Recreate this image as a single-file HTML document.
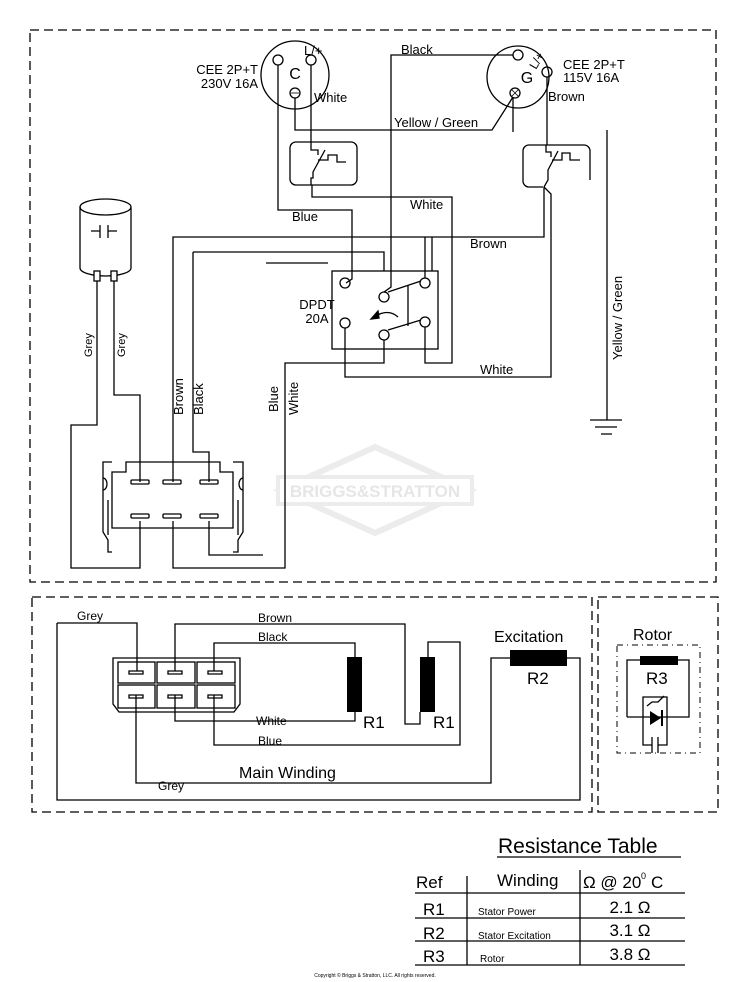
<!DOCTYPE html>
<html><head><meta charset="utf-8"><style>
html,body{margin:0;padding:0;background:#fff;}
svg{display:block;}
text{font-family:"Liberation Sans",sans-serif;fill:#000;}
</style></head><body>
<svg width="750" height="982" viewBox="0 0 750 982" xmlns="http://www.w3.org/2000/svg">
<g fill="none" stroke="#000" stroke-width="1.3">
<rect x="30" y="30" width="686" height="552" stroke-dasharray="9,5"/>
<rect x="32" y="597" width="560" height="215" stroke-dasharray="9,5"/>
<rect x="598" y="597" width="120" height="215" stroke-dasharray="9,5"/>
<rect x="617" y="645" width="83" height="108" stroke-dasharray="6,4,1,4" stroke-width="1"/>
</g>
<!-- watermark -->
<g fill="none" stroke="#ececec" stroke-width="6">
<polygon points="375,447 470,490 375,533 280,490"/>
</g>
<rect x="278" y="477" width="194" height="27" fill="#fff" stroke="#ececec" stroke-width="4"/>
<text x="375" y="497" font-size="17" font-weight="bold" text-anchor="middle" style="fill:#e6e6e6">BRIGGS&amp;STRATTON</text>

<g fill="none" stroke="#000" stroke-width="1.3">
<circle cx="295" cy="75" r="34"/>
<circle cx="278" cy="60" r="5"/><circle cx="311" cy="60" r="5"/><circle cx="295" cy="93" r="5"/>
<line x1="291" y1="93" x2="299" y2="93" stroke-width="0.8"/>
<circle cx="518" cy="77" r="31"/>
<circle cx="518" cy="55" r="5"/><circle cx="547" cy="72" r="5"/><circle cx="515" cy="93" r="5"/>
<path d="M512,90 l6,6 M518,90 l-6,6" stroke-width="0.8"/>
<path d="M513,55 H391 V287 L384,292"/>
<path d="M295,98 V130 H492 L513,97"/>
<path d="M513,97 V132"/>
<path d="M311,65 V142"/>
<rect x="290" y="142" width="67" height="43" rx="6"/>
<path d="M311,142 V150 H318 V155 M325,150 L313,172 V178 H311 V185 M318,160 H328 V155 H337 V162 H346"/>
<path d="M312,185 V197 H452 V363 H425 V327"/>
<path d="M278,65 V210 H352 V279 L346,283"/>
<path d="M547,77 V145"/>
<path d="M590,180 V151 a6,6 0 0 0 -6,-6 H529 a6,6 0 0 0 -6,6 V181 a6,6 0 0 0 6,6 H543"/>
<path d="M546,145 V152 H551 V157 M558,151 L548,170 V180 L544,187 M552,160 H562 V153 H570 V160 H580"/>
<path d="M544,187 V237 H173 V482"/>
<path d="M544,187 L551,194 V377 H345 V328"/>
<path d="M425,237 V278 M432,237 V271"/>
<path d="M384,340 V363 H285 V568 H173 V521"/>
<path d="M193,252 H384 V271"/>
<path d="M266,263 H328"/>
<rect x="332" y="271" width="106" height="78"/>
<circle cx="345" cy="283" r="5"/><circle cx="425" cy="283" r="5"/><circle cx="384" cy="297" r="5"/>
<circle cx="345" cy="323" r="5"/><circle cx="425" cy="322" r="5"/><circle cx="384" cy="335" r="5"/>
<path d="M388,292 L421,281 M388,330 L421,320 M408,285 V326"/>
<path d="M398,317 Q388,308 374,317"/>
<polygon points="371,319 378,311 379,318" fill="#000"/>
<path d="M607,130 V420 M590,420 H622 M595,427 H617 M601,434 H612"/>
<path d="M80,207 V268 M131,207 V268"/>
<ellipse cx="105.5" cy="207" rx="25.5" ry="8"/>
<path d="M80,268 A25.5,8 0 0 0 131,268"/>
<path d="M91,231 H100 M100,225 V238 M108,225 V238 M108,231 H117" />
<rect x="94" y="271" width="6" height="10" fill="#fff"/><rect x="111" y="271" width="6" height="10" fill="#fff"/>
<path d="M97,281 V425 H71 V568 H140 V521"/>
<path d="M114,281 V395 H140 V482"/>
<path d="M193,252 V452 H209 V482"/>
<path d="M209,521 V555 H263"/>
<path d="M112,472 H126 V462 H220 V472 H233 V528 H112 Z"/>
<path d="M112,462 H103 V532 L108,540 V552 H112 M103,478 a4,6 0 0 1 0,12"/>
<path d="M233,462 H243 V532 L238,540 V552 H233 M243,478 a-4,6 0 0 0 0,12"/>
<path d="M108,500 V535 M238,500 V535"/>
<rect x="131" y="480" width="18" height="4" rx="1"/><rect x="163" y="480" width="18" height="4" rx="1"/><rect x="200" y="480" width="18" height="4" rx="1"/>
<rect x="131" y="514" width="18" height="4" rx="1"/><rect x="163" y="514" width="18" height="4" rx="1"/><rect x="200" y="514" width="18" height="4" rx="1"/>

<path d="M113,658 H240 V704 L234,712 H119 L113,704 Z"/>
<rect x="118" y="662" width="37" height="21"/><rect x="157" y="662" width="38" height="21"/><rect x="197" y="662" width="38" height="21"/>
<rect x="118" y="685" width="37" height="23"/><rect x="157" y="685" width="38" height="23"/><rect x="197" y="685" width="38" height="23"/>
<path d="M129,674 h14 v-3 h-14 z M168,674 h14 v-3 h-14 z M208,674 h14 v-3 h-14 z M129,698 h14 v-3 h-14 z M168,698 h14 v-3 h-14 z M208,698 h14 v-3 h-14 z"/>
<path d="M57,623 H137 V671"/>
<path d="M57,623 V800 H580 V658 H567"/>
<path d="M175,671 V624 H405 V724 H420 V712"/>
<path d="M214,671 V643 H355 V657"/>
<path d="M175,695 V721 H355 V712"/>
<path d="M214,695 V745 H460 V642 H428 V657"/>
<path d="M136,695 V783 H491 V658 H510"/>
<path d="M627,717 V660 H689 V717 H627"/>
<path d="M643,717 V697 H667 V717"/>
<path d="M643,717 V745 H652 M667,717 V745 H658 M652,737 V753 M658,737 V753"/>
<path d="M647,706 l5,-4 h6 l6,-6" />
</g>
<g fill="#000">
<rect x="347" y="657" width="15" height="55"/>
<rect x="420" y="657" width="15" height="55"/>
<rect x="510" y="650" width="57" height="16"/>
<rect x="640" y="656" width="38" height="9"/>
<polygon points="650,711 650,725 661,718"/>
<rect x="661" y="710" width="2" height="16"/>
</g>

<g font-size="13">
<text x="258" y="74" text-anchor="end">CEE 2P+T</text>
<text x="258" y="88" text-anchor="end">230V 16A</text>
<text x="295" y="79" text-anchor="middle" font-size="16">C</text>
<text x="304" y="55">L/+</text>
<text x="314" y="102">White</text>
<text x="401" y="54">Black</text>
<text x="394" y="127">Yellow / Green</text>
<text x="527" y="83" text-anchor="middle" font-size="16">G</text>
<text transform="translate(536,70) rotate(-60)" font-size="12">L/+</text>
<text x="563" y="69">CEE 2P+T</text>
<text x="563" y="82">115V 16A</text>
<text x="548" y="101">Brown</text>
<text x="410" y="209">White</text>
<text x="292" y="221">Blue</text>
<text x="470" y="248">Brown</text>
<text x="317" y="309" text-anchor="middle">DPDT</text>
<text x="317" y="323" text-anchor="middle">20A</text>
<text x="480" y="374">White</text>
<text transform="translate(622,360) rotate(-90)">Yellow / Green</text>
<text transform="translate(92,357) rotate(-90)" font-size="11">Grey</text>
<text transform="translate(125,357) rotate(-90)" font-size="11">Grey</text>
<text transform="translate(183,415) rotate(-90)">Brown</text>
<text transform="translate(203,415) rotate(-90)">Black</text>
<text transform="translate(278,412) rotate(-90)">Blue</text>
<text transform="translate(298,415) rotate(-90)">White</text>
</g>
<g font-size="12">
<text x="77" y="620">Grey</text>
<text x="258" y="622">Brown</text>
<text x="258" y="641">Black</text>
<text x="256" y="725">White</text>
<text x="258" y="745">Blue</text>
<text x="158" y="790">Grey</text>
</g>
<text x="494" y="642" font-size="16">Excitation</text>
<text x="527" y="684" font-size="17">R2</text>
<text x="363" y="728" font-size="17">R1</text>
<text x="433" y="728" font-size="17">R1</text>
<text x="239" y="778" font-size="16">Main Winding</text>
<text x="633" y="640" font-size="16">Rotor</text>
<text x="646" y="684" font-size="17">R3</text>

<text x="498" y="853" font-size="21">Resistance Table</text>
<g stroke="#000" stroke-width="1.3" fill="none">
<path d="M497,857 H681"/>
<path d="M415,893 H685 M415,918 H685 M415,941 H685 M415,965 H685"/>
<path d="M467,876 V965 M580,870 V965"/>
</g>
<text x="416" y="888" font-size="17">Ref</text>
<text x="497" y="886" font-size="17">Winding</text>
<text x="583" y="888" font-size="17">Ω @ 20</text>
<text x="641" y="879" font-size="9">0</text>
<text x="651" y="888" font-size="17">C</text>
<text x="423" y="915" font-size="17">R1</text>
<text x="423" y="939" font-size="17">R2</text>
<text x="423" y="962" font-size="17">R3</text>
<text x="478" y="915" font-size="10">Stator Power</text>
<text x="478" y="939" font-size="10">Stator Excitation</text>
<text x="480" y="962" font-size="10">Rotor</text>
<text x="630" y="913" font-size="17" text-anchor="middle">2.1 Ω</text>
<text x="630" y="936" font-size="17" text-anchor="middle">3.1 Ω</text>
<text x="630" y="960" font-size="17" text-anchor="middle">3.8 Ω</text>
<text x="375" y="977" font-size="5" text-anchor="middle">Copyright © Briggs &amp; Stratton, LLC. All rights reserved.</text>
</svg>
</body></html>
